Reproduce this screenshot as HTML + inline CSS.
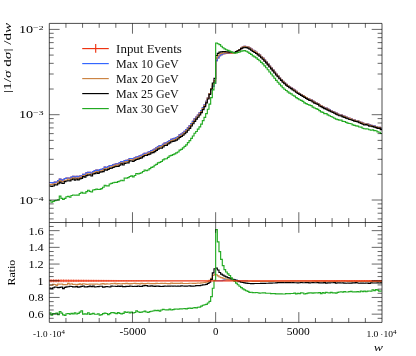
<!DOCTYPE html>
<html><head><meta charset="utf-8"><title>plot</title>
<style>html,body{margin:0;padding:0;background:#fff;overflow:hidden}svg{display:block;will-change:transform}</style></head>
<body>
<svg width="416" height="356" viewBox="0 0 416 356">
<rect width="416" height="356" fill="#fff"/>
<defs><clipPath id="cm"><rect x="49.30" y="23.40" width="332.70" height="199.10"/></clipPath><clipPath id="cr"><rect x="49.30" y="222.50" width="332.70" height="99.90"/></clipPath></defs>
<g clip-path="url(#cm)" fill="none" stroke-width="1.15" stroke-linejoin="miter">
<path d="M49.30,182.54H50.96V182.66H52.63V182.81H54.29V182.06H55.95V182.01H57.62V180.59H59.28V179.12H60.94V180.16H62.61V179.88H64.27V178.52H65.94V178.14H67.60V177.97H69.26V178.32H70.93V177.16H72.59V176.21H74.25V177.24H75.92V176.29H77.58V176.84H79.24V176.01H80.91V175.81H82.57V174.21H84.23V174.31H85.90V172.79H87.56V172.34H89.22V172.24H90.89V173.31H92.55V171.57H94.21V170.67H95.88V170.16H97.54V170.69H99.20V169.62H100.87V169.36H102.53V168.65H104.20V167.06H105.86V167.50H107.52V166.53H109.19V165.48H110.85V165.70H112.51V164.93H114.18V164.24H115.84V163.77H117.50V163.87H119.17V162.63H120.83V161.50H122.49V162.30H124.16V160.68H125.82V160.44H127.48V160.19H129.15V158.46H130.81V158.48H132.47V158.85H134.14V157.77H135.80V156.97H137.47V156.68H139.13V155.73H140.79V155.32H142.46V154.30H144.12V153.28H145.78V153.28H147.45V152.21H149.11V151.60H150.77V150.59H152.44V150.15H154.10V149.05H155.76V147.94H157.43V146.63H159.09V145.67H160.75V145.54H162.42V144.43H164.08V143.06H165.75V142.86H167.41V141.53H169.07V140.51H170.74V139.39H172.40V138.87H174.06V138.43H175.73V137.60H177.39V136.48H179.05V134.91H180.72V134.15H182.38V132.84H184.04V131.24H185.71V129.66H187.37V127.79H189.03V125.94H190.70V123.50H192.36V121.33H194.02V118.94H195.69V116.96H197.35V115.00H199.01V112.80H200.68V110.62H202.34V107.69H204.01V104.79H205.67V101.31H207.33V97.81H209.00V93.68H210.66V89.80H212.32V86.37H213.99V83.39H215.65V60.72H217.31V57.88H218.98V55.67H220.64V54.76H222.30V53.93H223.97V53.57H225.63V53.39H227.29V53.30H228.96V53.21H230.62V53.09H232.28V53.00H233.95V52.77H235.61V51.83H237.28V50.64H238.94V49.46H240.60V47.97H242.27V47.01H243.93V46.34H245.59V46.55H247.26V46.98H248.92V47.90H250.58V48.97H252.25V50.21H253.91V51.19H255.57V52.24H257.24V53.67H258.90V54.82H260.56V56.55H262.23V58.08H263.89V60.01H265.56V61.75H267.22V63.77H268.88V65.96H270.55V67.76H272.21V69.80H273.87V72.01H275.54V74.03H277.20V75.93H278.86V77.89H280.53V79.49H282.19V81.37H283.85V82.85H285.52V84.33H287.18V85.63H288.84V86.93H290.51V87.81H292.17V89.13H293.83V90.13H295.50V91.35H297.16V92.54H298.82V93.54H300.49V94.59H302.15V95.50H303.82V96.51H305.48V97.46H307.14V98.55H308.81V99.36H310.47V99.87H312.13V101.17H313.80V102.18H315.46V102.84H317.12V103.59H318.79V105.01H320.45V105.72H322.11V106.69H323.78V107.76H325.44V108.13H327.10V109.08H328.77V109.92H330.43V110.89H332.10V111.46H333.76V112.43H335.42V113.12H337.09V114.06H338.75V114.75H340.41V114.84H342.08V115.86H343.74V116.34H345.40V117.03H347.07V117.75H348.73V118.37H350.39V118.70H352.06V119.53H353.72V120.11H355.38V120.63H357.05V120.90H358.71V121.59H360.37V122.27H362.04V123.11H363.70V123.84H365.37V123.67H367.03V124.13H368.69V124.93H370.36V125.22H372.02V125.60H373.68V126.05H375.35V126.53H377.01V127.41H378.67V127.34H380.34V128.64H382.00" stroke="#ee3311"/>
<path d="M49.30,182.54H50.96V182.66H52.63V182.81H54.29V182.06H55.95V182.01H57.62V180.59H59.28V179.12H60.94V180.16H62.61V179.88H64.27V178.52H65.94V178.14H67.60V177.97H69.26V178.32H70.93V177.16H72.59V176.21H74.25V177.24H75.92V176.29H77.58V176.84H79.24V176.01H80.91V175.81H82.57V174.21H84.23V174.31H85.90V172.79H87.56V172.34H89.22V172.24H90.89V173.31H92.55V171.57H94.21V170.67H95.88V170.16H97.54V170.69H99.20V169.62H100.87V169.36H102.53V168.65H104.20V167.06H105.86V167.50H107.52V166.53H109.19V165.48H110.85V165.70H112.51V164.93H114.18V164.24H115.84V163.77H117.50V163.87H119.17V162.63H120.83V161.50H122.49V162.30H124.16V160.68H125.82V160.44H127.48V160.19H129.15V158.46H130.81V158.48H132.47V158.85H134.14V157.77H135.80V156.97H137.47V156.68H139.13V155.73H140.79V155.32H142.46V154.30H144.12V153.28H145.78V153.28H147.45V152.21H149.11V151.60H150.77V150.59H152.44V150.15H154.10V149.05H155.76V147.94H157.43V146.63H159.09V145.67H160.75V145.54H162.42V144.43H164.08V143.06H165.75V142.86H167.41V141.53H169.07V140.51H170.74V139.39H172.40V138.87H174.06V138.43H175.73V137.60H177.39V136.48H179.05V134.91H180.72V134.15H182.38V132.84H184.04V131.24H185.71V129.66H187.37V127.79H189.03V125.94H190.70V123.50H192.36V121.33H194.02V118.94H195.69V116.96H197.35V115.00H199.01V112.80H200.68V110.62H202.34V107.69H204.01V104.79H205.67V101.31H207.33V97.81H209.00V93.68H210.66V89.80H212.32V86.37H213.99V83.39H215.65V60.72H217.31V57.88H218.98V55.67H220.64V54.75H222.30V53.77H223.97V53.22H225.63V52.94H227.29V52.80H228.96V52.67H230.62V52.54H232.28V52.50H233.95V52.47H235.61V51.67H237.28V50.58H238.94V49.46H240.60V47.97H242.27V47.01H243.93V46.34H245.59V46.55H247.26V46.98H248.92V47.90H250.58V48.97H252.25V50.21H253.91V51.19H255.57V52.24H257.24V53.67H258.90V54.82H260.56V56.55H262.23V58.08H263.89V60.01H265.56V61.75H267.22V63.77H268.88V65.96H270.55V67.76H272.21V69.80H273.87V72.01H275.54V74.03H277.20V75.93H278.86V77.89H280.53V79.49H282.19V81.37H283.85V82.85H285.52V84.33H287.18V85.63H288.84V86.93H290.51V87.81H292.17V89.13H293.83V90.13H295.50V91.35H297.16V92.54H298.82V93.54H300.49V94.59H302.15V95.50H303.82V96.51H305.48V97.46H307.14V98.55H308.81V99.36H310.47V99.87H312.13V101.17H313.80V102.18H315.46V102.84H317.12V103.59H318.79V105.01H320.45V105.72H322.11V106.69H323.78V107.76H325.44V108.13H327.10V109.08H328.77V109.92H330.43V110.89H332.10V111.46H333.76V112.43H335.42V113.12H337.09V114.06H338.75V114.75H340.41V114.84H342.08V115.86H343.74V116.34H345.40V117.03H347.07V117.75H348.73V118.37H350.39V118.70H352.06V119.53H353.72V120.11H355.38V120.63H357.05V120.90H358.71V121.59H360.37V122.27H362.04V123.11H363.70V123.84H365.37V123.67H367.03V124.13H368.69V124.93H370.36V125.22H372.02V125.60H373.68V126.05H375.35V126.53H377.01V127.41H378.67V127.34H380.34V128.64H382.00" stroke="#3366ff"/>
<path d="M49.30,184.61H50.96V184.65H52.63V184.44H54.29V183.76H55.95V184.10H57.62V182.08H59.28V180.69H60.94V181.61H62.61V181.62H64.27V180.28H65.94V179.97H67.60V179.19H69.26V179.93H70.93V178.51H72.59V177.90H74.25V178.84H75.92V178.15H77.58V178.48H79.24V177.41H80.91V177.51H82.57V175.57H84.23V175.76H85.90V174.45H87.56V173.91H89.22V173.78H90.89V174.78H92.55V173.10H94.21V172.22H95.88V171.64H97.54V172.26H99.20V171.21H100.87V170.76H102.53V169.93H104.20V168.62H105.86V168.89H107.52V167.98H109.19V166.95H110.85V166.94H112.51V166.30H114.18V165.39H115.84V165.16H117.50V165.14H119.17V163.96H120.83V162.88H122.49V163.53H124.16V161.97H125.82V161.65H127.48V161.47H129.15V159.84H130.81V159.75H132.47V160.09H134.14V158.93H135.80V158.30H137.47V157.94H139.13V157.12H140.79V156.51H142.46V155.63H144.12V154.67H145.78V154.50H147.45V153.33H149.11V152.93H150.77V151.89H152.44V151.43H154.10V150.34H155.76V149.12H157.43V147.88H159.09V146.91H160.75V146.69H162.42V145.66H164.08V144.22H165.75V144.11H167.41V142.81H169.07V141.81H170.74V140.46H172.40V140.05H174.06V139.60H175.73V138.77H177.39V137.64H179.05V136.07H180.72V135.22H182.38V134.06H184.04V132.49H185.71V130.87H187.37V129.01H189.03V127.05H190.70V124.60H192.36V122.51H194.02V120.13H195.69V118.09H197.35V116.03H199.01V113.93H200.68V111.56H202.34V108.59H204.01V105.53H205.67V101.95H207.33V98.17H209.00V93.54H210.66V88.79H212.32V84.10H213.99V80.68H215.65V58.16H217.31V55.79H218.98V54.04H220.64V53.38H222.30V52.81H223.97V52.67H225.63V52.66H227.29V52.73H228.96V52.75H230.62V52.76H232.28V52.77H233.95V52.64H235.61V51.81H237.28V50.68H238.94V49.55H240.60V48.10H242.27V47.19H243.93V46.53H245.59V46.77H247.26V47.19H248.92V48.12H250.58V49.20H252.25V50.45H253.91V51.45H255.57V52.51H257.24V53.94H258.90V55.09H260.56V56.80H262.23V58.34H263.89V60.30H265.56V62.00H267.22V64.06H268.88V66.22H270.55V68.02H272.21V70.09H273.87V72.25H275.54V74.26H277.20V76.16H278.86V78.12H280.53V79.73H282.19V81.61H283.85V83.08H285.52V84.55H287.18V85.83H288.84V87.16H290.51V88.00H292.17V89.32H293.83V90.32H295.50V91.56H297.16V92.71H298.82V93.78H300.49V94.76H302.15V95.67H303.82V96.69H305.48V97.63H307.14V98.77H308.81V99.56H310.47V100.04H312.13V101.34H313.80V102.36H315.46V103.09H317.12V103.76H318.79V105.15H320.45V105.87H322.11V106.88H323.78V108.02H325.44V108.29H327.10V109.30H328.77V110.24H330.43V111.10H332.10V111.74H333.76V112.71H335.42V113.37H337.09V114.22H338.75V114.98H340.41V115.05H342.08V115.99H343.74V116.48H345.40V117.27H347.07V118.01H348.73V118.69H350.39V119.00H352.06V119.76H353.72V120.34H355.38V120.88H357.05V121.12H358.71V121.91H360.37V122.55H362.04V123.34H363.70V124.09H365.37V123.89H367.03V124.40H368.69V125.26H370.36V125.52H372.02V126.00H373.68V126.50H375.35V126.84H377.01V127.76H378.67V127.69H380.34V129.13H382.00" stroke="#cc8444"/>
<path d="M49.30,185.98H50.96V186.40H52.63V186.04H54.29V184.94H55.95V184.98H57.62V183.78H59.28V182.16H60.94V183.06H62.61V183.53H64.27V181.58H65.94V180.97H67.60V180.73H69.26V180.85H70.93V179.79H72.59V179.02H74.25V180.05H75.92V179.00H77.58V179.80H79.24V178.85H80.91V178.41H82.57V176.62H84.23V177.11H85.90V175.58H87.56V175.05H89.22V174.74H90.89V176.02H92.55V174.04H94.21V173.55H95.88V172.92H97.54V173.42H99.20V172.16H100.87V171.87H102.53V171.58H104.20V169.89H105.86V170.12H107.52V169.30H109.19V168.36H110.85V168.18H112.51V167.45H114.18V166.78H115.84V166.43H117.50V166.33H119.17V165.23H120.83V163.94H122.49V165.01H124.16V163.38H125.82V163.00H127.48V162.84H129.15V160.93H130.81V160.99H132.47V161.51H134.14V160.31H135.80V159.54H137.47V159.10H139.13V158.33H140.79V157.88H142.46V156.65H144.12V155.50H145.78V155.54H147.45V154.68H149.11V154.05H150.77V152.91H152.44V152.64H154.10V151.62H155.76V150.41H157.43V149.06H159.09V148.22H160.75V148.17H162.42V147.03H164.08V145.48H165.75V145.38H167.41V144.00H169.07V142.94H170.74V141.79H172.40V141.33H174.06V140.85H175.73V140.11H177.39V138.96H179.05V137.41H180.72V136.51H182.38V135.26H184.04V133.71H185.71V132.10H187.37V130.21H189.03V128.30H190.70V125.98H192.36V123.78H194.02V121.32H195.69V119.17H197.35V117.23H199.01V115.00H200.68V112.67H202.34V109.55H204.01V106.62H205.67V102.93H207.33V99.04H209.00V94.35H210.66V89.19H212.32V83.00H213.99V78.40H215.65V55.46H217.31V53.40H218.98V52.18H220.64V51.91H222.30V51.54H223.97V51.58H225.63V51.72H227.29V51.91H228.96V52.09H230.62V52.22H232.28V52.32H233.95V52.32H235.61V51.61H237.28V50.70H238.94V49.83H240.60V48.63H242.27V47.80H243.93V47.29H245.59V47.63H247.26V48.14H248.92V49.14H250.58V50.25H252.25V51.47H253.91V52.45H255.57V53.48H257.24V54.89H258.90V56.08H260.56V57.74H262.23V59.29H263.89V61.16H265.56V62.87H267.22V64.88H268.88V67.03H270.55V68.81H272.21V70.82H273.87V73.03H275.54V74.97H277.20V76.78H278.86V78.70H280.53V80.32H282.19V82.21H283.85V83.73H285.52V85.15H287.18V86.49H288.84V87.79H290.51V88.69H292.17V89.99H293.83V91.01H295.50V92.23H297.16V93.46H298.82V94.43H300.49V95.37H302.15V96.37H303.82V97.41H305.48V98.32H307.14V99.42H308.81V100.30H310.47V100.78H312.13V102.02H313.80V103.07H315.46V103.74H317.12V104.42H318.79V105.95H320.45V106.64H322.11V107.64H323.78V108.61H325.44V109.17H327.10V110.07H328.77V110.89H330.43V111.79H332.10V112.35H333.76V113.29H335.42V114.16H337.09V114.97H338.75V115.72H340.41V115.85H342.08V116.80H343.74V117.38H345.40V118.15H347.07V118.77H348.73V119.46H350.39V119.74H352.06V120.49H353.72V121.06H355.38V121.50H357.05V121.91H358.71V122.72H360.37V123.34H362.04V124.20H363.70V124.95H365.37V124.66H367.03V125.21H368.69V126.12H370.36V126.19H372.02V126.63H373.68V127.05H375.35V127.55H377.01V128.39H378.67V128.37H380.34V129.56H382.00" stroke="#000000"/>
<path d="M49.30,200.49H50.96V202.26H52.63V201.35H54.29V200.57H55.95V200.22H57.62V199.94H59.28V196.11H60.94V198.34H62.61V199.32H64.27V198.37H65.94V196.79H67.60V196.42H69.26V197.21H70.93V195.48H72.59V194.98H74.25V195.21H75.92V195.13H77.58V195.17H79.24V193.45H80.91V192.27H82.57V193.14H84.23V193.06H85.90V191.68H87.56V190.22H89.22V191.34H90.89V192.02H92.55V189.98H94.21V189.67H95.88V189.16H97.54V189.45H99.20V189.36H100.87V188.67H102.53V187.23H104.20V185.24H105.86V185.92H107.52V185.83H109.19V183.98H110.85V183.41H112.51V182.74H114.18V182.43H115.84V182.34H117.50V181.68H119.17V181.02H120.83V180.20H122.49V180.70H124.16V177.96H125.82V178.18H127.48V177.56H129.15V176.50H130.81V175.93H132.47V176.90H134.14V175.52H135.80V173.54H137.47V173.87H139.13V173.44H140.79V172.79H142.46V171.45H144.12V170.03H145.78V170.62H147.45V169.95H149.11V168.69H150.77V167.42H152.44V166.82H154.10V165.22H155.76V164.34H157.43V162.85H159.09V162.39H160.75V161.53H162.42V159.93H164.08V158.88H165.75V158.79H167.41V157.37H169.07V155.85H170.74V155.37H172.40V154.56H174.06V153.86H175.73V152.87H177.39V151.95H179.05V150.14H180.72V149.41H182.38V147.94H184.04V146.33H185.71V144.88H187.37V142.67H189.03V140.55H190.70V138.38H192.36V135.96H194.02V133.29H195.69V131.48H197.35V129.14H199.01V126.90H200.68V124.06H202.34V120.56H204.01V117.31H205.67V113.64H207.33V109.27H209.00V104.17H210.66V97.58H212.32V89.86H213.99V83.20H215.65V43.01H217.31V43.71H218.98V44.58H220.64V46.29H222.30V47.74H223.97V48.93H225.63V49.70H227.29V50.38H228.96V50.95H230.62V51.82H232.28V52.68H233.95V53.09H235.61V52.88H237.28V52.43H238.94V52.01H240.60V51.13H242.27V50.81H243.93V50.64H245.59V51.26H247.26V52.05H248.92V53.43H250.58V54.44H252.25V55.87H253.91V56.94H255.57V57.86H257.24V59.43H258.90V60.73H260.56V62.42H262.23V63.88H263.89V65.84H265.56V67.76H267.22V69.77H268.88V71.98H270.55V73.95H272.21V75.95H273.87V78.23H275.54V80.34H277.20V82.27H278.86V84.18H280.53V85.81H282.19V87.77H283.85V89.23H285.52V90.52H287.18V91.89H288.84V93.10H290.51V93.92H292.17V95.28H293.83V96.06H295.50V97.67H297.16V98.63H298.82V99.73H300.49V100.43H302.15V101.35H303.82V102.90H305.48V103.69H307.14V104.47H308.81V105.19H310.47V105.69H312.13V107.09H313.80V107.98H315.46V108.58H317.12V109.41H318.79V110.66H320.45V111.92H322.11V112.38H323.78V113.67H325.44V113.66H327.10V114.81H328.77V115.76H330.43V116.47H332.10V117.28H333.76V118.26H335.42V119.05H337.09V119.62H338.75V120.12H340.41V120.07H342.08V121.31H343.74V121.51H345.40V122.40H347.07V123.13H348.73V123.54H350.39V123.73H352.06V124.88H353.72V125.43H355.38V125.89H357.05V126.09H358.71V126.97H360.37V127.12H362.04V128.27H363.70V128.79H365.37V128.92H367.03V129.01H368.69V129.76H370.36V130.20H372.02V129.84H373.68V130.68H375.35V130.73H377.01V131.83H378.67V132.28H380.34V133.47H382.00" stroke="#22aa22"/>
</g>
<g clip-path="url(#cr)" fill="none" stroke-width="1.15" stroke-linejoin="miter">
<defs><clipPath id="cb"><rect x="214" y="222.50" width="34" height="99.90"/></clipPath></defs>
<path d="M49.30,280.75H50.96V280.75H52.63V280.75H54.29V280.75H55.95V280.75H57.62V280.75H59.28V280.75H60.94V280.75H62.61V280.75H64.27V280.75H65.94V280.75H67.60V280.75H69.26V280.75H70.93V280.75H72.59V280.75H74.25V280.75H75.92V280.75H77.58V280.75H79.24V280.75H80.91V280.75H82.57V280.75H84.23V280.75H85.90V280.75H87.56V280.75H89.22V280.75H90.89V280.75H92.55V280.75H94.21V280.75H95.88V280.75H97.54V280.75H99.20V280.75H100.87V280.75H102.53V280.75H104.20V280.75H105.86V280.75H107.52V280.75H109.19V280.75H110.85V280.75H112.51V280.75H114.18V280.75H115.84V280.75H117.50V280.75H119.17V280.75H120.83V280.75H122.49V280.75H124.16V280.75H125.82V280.75H127.48V280.75H129.15V280.75H130.81V280.75H132.47V280.75H134.14V280.75H135.80V280.75H137.47V280.75H139.13V280.75H140.79V280.75H142.46V280.75H144.12V280.75H145.78V280.75H147.45V280.75H149.11V280.75H150.77V280.75H152.44V280.75H154.10V280.75H155.76V280.75H157.43V280.75H159.09V280.75H160.75V280.75H162.42V280.75H164.08V280.75H165.75V280.75H167.41V280.75H169.07V280.75H170.74V280.75H172.40V280.75H174.06V280.75H175.73V280.75H177.39V280.75H179.05V280.75H180.72V280.75H182.38V280.75H184.04V280.75H185.71V280.75H187.37V280.75H189.03V280.75H190.70V280.75H192.36V280.75H194.02V280.75H195.69V280.75H197.35V280.75H199.01V280.75H200.68V280.75H202.34V280.75H204.01V280.75H205.67V280.75H207.33V280.75H209.00V280.75H210.66V280.75H212.32V280.75H213.99V280.75H215.65V280.75H217.31V280.75H218.98V280.75H220.64V280.73H222.30V280.39H223.97V279.94H225.63V279.72H227.29V279.61H228.96V279.54H230.62V279.50H232.28V279.63H233.95V280.06H235.61V280.40H237.28V280.62H238.94V280.75H240.60V280.75H242.27V280.75H243.93V280.75H245.59V280.75H247.26V280.75H248.92V280.75H250.58V280.75H252.25V280.75H253.91V280.75H255.57V280.75H257.24V280.75H258.90V280.75H260.56V280.75H262.23V280.75H263.89V280.75H265.56V280.75H267.22V280.75H268.88V280.75H270.55V280.75H272.21V280.75H273.87V280.75H275.54V280.75H277.20V280.75H278.86V280.75H280.53V280.75H282.19V280.75H283.85V280.75H285.52V280.75H287.18V280.75H288.84V280.75H290.51V280.75H292.17V280.75H293.83V280.75H295.50V280.75H297.16V280.75H298.82V280.75H300.49V280.75H302.15V280.75H303.82V280.75H305.48V280.75H307.14V280.75H308.81V280.75H310.47V280.75H312.13V280.75H313.80V280.75H315.46V280.75H317.12V280.75H318.79V280.75H320.45V280.75H322.11V280.75H323.78V280.75H325.44V280.75H327.10V280.75H328.77V280.75H330.43V280.75H332.10V280.75H333.76V280.75H335.42V280.75H337.09V280.75H338.75V280.75H340.41V280.75H342.08V280.75H343.74V280.75H345.40V280.75H347.07V280.75H348.73V280.75H350.39V280.75H352.06V280.75H353.72V280.75H355.38V280.75H357.05V280.75H358.71V280.75H360.37V280.75H362.04V280.75H363.70V280.75H365.37V280.75H367.03V280.75H368.69V280.75H370.36V280.75H372.02V280.75H373.68V280.75H375.35V280.75H377.01V280.75H378.67V280.75H380.34V280.75H382.00" stroke="#3366ff" clip-path="url(#cb)"/>
<path d="M49.30,285.29H50.96V285.12H52.63V284.34H54.29V284.48H55.95V285.33H57.62V284.06H59.28V284.20H60.94V283.95H62.61V284.59H64.27V284.60H65.94V284.78H67.60V283.44H69.26V284.29H70.93V283.74H72.59V284.47H74.25V284.26H75.92V284.84H77.58V284.35H79.24V283.86H80.91V284.51H82.57V283.76H84.23V283.96H85.90V284.40H87.56V284.22H89.22V284.15H90.89V284.00H92.55V284.12H94.21V284.19H95.88V284.02H97.54V284.21H99.20V284.25H100.87V283.84H102.53V283.58H104.20V284.21H105.86V283.81H107.52V283.95H109.19V284.00H110.85V283.51H112.51V283.79H114.18V283.31H115.84V283.83H117.50V283.57H119.17V283.70H120.83V283.80H122.49V283.48H124.16V283.60H125.82V283.44H127.48V283.58H129.15V283.80H130.81V283.58H132.47V283.50H134.14V283.32H135.80V283.68H137.47V283.54H139.13V283.82H140.79V283.38H142.46V283.69H144.12V283.82H145.78V283.46H147.45V283.25H149.11V283.70H150.77V283.64H152.44V283.57H154.10V283.60H155.76V283.36H157.43V283.53H159.09V283.50H160.75V283.31H162.42V283.48H164.08V283.33H165.75V283.52H167.41V283.58H169.07V283.62H170.74V283.13H172.40V283.38H174.06V283.33H175.73V283.35H177.39V283.33H179.05V283.31H180.72V283.12H182.38V283.45H184.04V283.52H185.71V283.45H187.37V283.45H189.03V283.22H190.70V283.20H192.36V283.37H194.02V283.40H195.69V283.25H197.35V283.04H199.01V283.26H200.68V282.85H202.34V282.77H204.01V282.39H205.67V282.17H207.33V281.55H209.00V280.44H210.66V278.43H212.32V275.47H213.99V274.42H215.65V274.78H217.31V275.90H218.98V277.00H220.64V277.60H222.30V278.19H223.97V278.70H225.63V279.09H227.29V279.45H228.96V279.72H230.62V279.99H232.28V280.23H233.95V280.46H235.61V280.70H237.28V280.86H238.94V280.95H240.60V281.06H242.27V281.14H243.93V281.17H245.59V281.23H247.26V281.21H248.92V281.25H250.58V281.27H252.25V281.30H253.91V281.34H255.57V281.36H257.24V281.35H258.90V281.36H260.56V281.33H262.23V281.34H263.89V281.39H265.56V281.33H267.22V281.38H268.88V281.35H270.55V281.33H272.21V281.40H273.87V281.29H275.54V281.27H277.20V281.27H278.86V281.28H280.53V281.27H282.19V281.29H283.85V281.25H285.52V281.25H287.18V281.21H288.84V281.27H290.51V281.18H292.17V281.17H293.83V281.19H295.50V281.20H297.16V281.14H298.82V281.29H300.49V281.14H302.15V281.14H303.82V281.14H305.48V281.14H307.14V281.22H308.81V281.19H310.47V281.12H312.13V281.13H313.80V281.17H315.46V281.31H317.12V281.14H318.79V281.06H320.45V281.08H322.11V281.18H323.78V281.34H325.44V281.12H327.10V281.24H328.77V281.48H330.43V281.21H332.10V281.39H333.76V281.39H335.42V281.31H337.09V281.11H338.75V281.28H340.41V281.21H342.08V281.04H343.74V281.07H345.40V281.28H347.07V281.34H348.73V281.47H350.39V281.41H352.06V281.27H353.72V281.27H355.38V281.31H357.05V281.23H358.71V281.47H360.37V281.39H362.04V281.28H363.70V281.30H365.37V281.25H367.03V281.37H368.69V281.49H370.36V281.42H372.02V281.65H373.68V281.76H375.35V281.44H377.01V281.53H378.67V281.52H380.34V281.85H382.00" stroke="#cc8444"/>
<path d="M49.30,288.15H50.96V288.77H52.63V287.72H54.29V286.98H55.95V287.20H57.62V287.66H59.28V287.33H60.94V287.02H62.61V288.58H64.27V287.36H65.94V286.90H67.60V286.74H69.26V286.25H70.93V286.48H72.59V286.85H74.25V286.83H75.92V286.64H77.58V287.16H79.24V286.92H80.91V286.43H82.57V286.00H84.23V286.83H85.90V286.81H87.56V286.64H89.22V286.19H90.89V286.63H92.55V286.14H94.21V286.99H95.88V286.74H97.54V286.67H99.20V286.28H100.87V286.21H102.53V287.10H104.20V286.90H105.86V286.45H107.52V286.77H109.19V287.00H110.85V286.15H112.51V286.25H114.18V286.28H115.84V286.54H117.50V286.10H119.17V286.42H120.83V286.08H122.49V286.64H124.16V286.62H125.82V286.32H127.48V286.51H129.15V286.14H130.81V286.24H132.47V286.54H134.14V286.29H135.80V286.34H137.47V286.04H139.13V286.40H140.79V286.33H142.46V285.89H144.12V285.62H145.78V285.69H147.45V286.13H149.11V286.10H150.77V285.83H152.44V286.18H154.10V286.36H155.76V286.13H157.43V286.06H159.09V286.31H160.75V286.48H162.42V286.41H164.08V286.02H165.75V286.24H167.41V286.14H169.07V286.05H170.74V285.99H172.40V286.13H174.06V286.02H175.73V286.21H177.39V286.15H179.05V286.20H180.72V285.90H182.38V286.04H184.04V286.14H185.71V286.07H187.37V286.03H189.03V285.91H190.70V286.17H192.36V286.10H194.02V285.96H195.69V285.58H197.35V285.62H199.01V285.56H200.68V285.24H202.34V284.85H204.01V284.77H205.67V284.32H207.33V283.47H209.00V282.24H210.66V279.36H212.32V272.80H213.99V268.73H215.65V268.01H217.31V270.03H218.98V272.50H220.64V274.09H222.30V275.18H223.97V276.14H225.63V276.90H227.29V277.55H228.96V278.19H230.62V278.78H232.28V279.20H233.95V279.72H235.61V280.25H237.28V280.91H238.94V281.58H240.60V282.23H242.27V282.50H243.93V282.87H245.59V283.13H247.26V283.32H248.92V283.50H250.58V283.59H252.25V283.55H253.91V283.54H255.57V283.49H257.24V283.45H258.90V283.53H260.56V283.40H262.23V283.44H263.89V283.30H265.56V283.26H267.22V283.20H268.88V283.12H270.55V283.07H272.21V283.02H273.87V283.01H275.54V282.83H277.20V282.63H278.86V282.57H280.53V282.58H282.19V282.62H283.85V282.71H285.52V282.56H287.18V282.67H288.84V282.68H290.51V282.70H292.17V282.68H293.83V282.72H295.50V282.71H297.16V282.80H298.82V282.73H300.49V282.49H302.15V282.70H303.82V282.74H305.48V282.67H307.14V282.67H308.81V282.86H310.47V282.77H312.13V282.66H313.80V282.73H315.46V282.74H317.12V282.61H318.79V282.85H320.45V282.80H322.11V282.85H323.78V282.65H325.44V283.06H327.10V282.94H328.77V282.91H330.43V282.75H332.10V282.75H333.76V282.68H335.42V283.06H337.09V282.79H338.75V282.92H340.41V282.98H342.08V282.83H343.74V283.06H345.40V283.24H347.07V283.02H348.73V283.17H350.39V283.05H352.06V282.88H353.72V282.87H355.38V282.68H357.05V282.99H358.71V283.25H360.37V283.15H362.04V283.18H363.70V283.22H365.37V282.95H367.03V283.15H368.69V283.39H370.36V282.93H372.02V283.04H373.68V282.97H375.35V283.02H377.01V282.93H378.67V283.03H380.34V282.81H382.00" stroke="#000000"/>
<path d="M49.30,312.83H50.96V315.05H52.63V313.63H54.29V313.58H55.95V313.18H57.62V314.73H59.28V311.47H60.94V313.13H62.61V314.84H64.27V315.39H65.94V313.78H67.60V313.49H69.26V314.10H70.93V313.33H72.59V313.94H74.25V312.84H75.92V314.03H77.58V313.33H79.24V312.10H80.91V310.72H82.57V314.15H84.23V313.92H85.90V314.11H87.56V312.72H89.22V314.38H90.89V313.85H92.55V313.44H94.21V314.26H95.88V314.26H97.54V313.92H99.20V315.23H100.87V314.67H102.53V313.68H104.20V313.14H105.86V313.46H107.52V314.66H109.19V313.58H110.85V312.49H112.51V312.62H114.18V313.14H115.84V313.67H117.50V312.62H119.17V313.42H120.83V313.85H122.49V313.44H124.16V311.88H125.82V312.52H127.48V312.01H129.15V312.94H130.81V312.12H132.47V312.96H134.14V312.53H135.80V310.86H137.47V311.76H139.13V312.47H140.79V312.14H142.46V311.70H144.12V311.12H145.78V311.96H147.45V312.52H149.11V311.61H150.77V311.24H152.44V311.00H154.10V310.29H155.76V310.61H157.43V310.36H159.09V311.07H160.75V310.02H162.42V309.30H164.08V309.77H165.75V309.92H167.41V309.80H169.07V309.06H170.74V310.00H172.40V309.59H174.06V309.19H175.73V308.96H177.39V309.26H179.05V308.89H180.72V308.94H182.38V308.70H184.04V308.68H185.71V308.89H187.37V308.38H189.03V307.97H190.70V308.38H192.36V308.01H194.02V307.57H195.69V307.81H197.35V307.23H199.01V307.18H200.68V306.16H202.34V305.27H204.01V304.70H205.67V304.39H207.33V302.96H209.00V301.34H210.66V296.56H212.32V288.26H213.99V280.33H215.65V229.56H217.31V241.87H218.98V251.62H220.64V259.31H222.30V265.57H223.97V269.61H225.63V272.01H227.29V273.91H228.96V275.51H230.62V277.85H232.28V280.03H233.95V281.47H235.61V283.08H237.28V284.71H238.94V286.29H240.60V287.59H242.27V288.89H243.93V289.90H245.59V290.71H247.26V291.43H248.92V292.32H250.58V292.20H252.25V292.59H253.91V292.76H255.57V292.51H257.24V292.78H258.90V293.06H260.56V293.00H262.23V292.85H263.89V292.90H265.56V293.27H267.22V293.23H268.88V293.27H270.55V293.60H272.21V293.51H273.87V293.65H275.54V293.83H277.20V293.88H278.86V293.80H280.53V293.84H282.19V293.99H283.85V293.95H285.52V293.59H287.18V293.74H288.84V293.56H290.51V293.45H292.17V293.52H293.83V293.11H295.50V293.83H297.16V293.42H298.82V293.60H300.49V292.93H302.15V292.95H303.82V293.98H305.48V293.67H307.14V293.07H308.81V292.92H310.47V292.89H312.13V293.08H313.80V292.86H315.46V292.73H317.12V292.90H318.79V292.56H320.45V293.62H322.11V292.63H323.78V293.08H325.44V292.34H327.10V292.72H328.77V292.94H330.43V292.43H332.10V292.89H333.76V292.91H335.42V293.11H337.09V292.38H338.75V292.02H340.41V291.74H342.08V292.16H343.74V291.62H345.40V292.02H347.07V292.03H348.73V291.63H350.39V291.34H352.06V291.98H353.72V291.93H355.38V291.81H357.05V291.65H358.71V292.04H360.37V291.01H362.04V291.62H363.70V291.18H365.37V291.78H367.03V291.07H368.69V290.96H370.36V291.26H372.02V289.79H373.68V290.55H375.35V289.69H377.01V290.15H378.67V291.17H380.34V290.96H382.00" stroke="#22aa22"/>
<path d="M49.30,280.75H50.96V280.75H52.63V280.75H54.29V280.75H55.95V280.75H57.62V280.75H59.28V280.75H60.94V280.75H62.61V280.75H64.27V280.75H65.94V280.75H67.60V280.75H69.26V280.75H70.93V280.75H72.59V280.75H74.25V280.75H75.92V280.75H77.58V280.75H79.24V280.75H80.91V280.75H82.57V280.75H84.23V280.75H85.90V280.75H87.56V280.75H89.22V280.75H90.89V280.75H92.55V280.75H94.21V280.75H95.88V280.75H97.54V280.75H99.20V280.75H100.87V280.75H102.53V280.75H104.20V280.75H105.86V280.75H107.52V280.75H109.19V280.75H110.85V280.75H112.51V280.75H114.18V280.75H115.84V280.75H117.50V280.75H119.17V280.75H120.83V280.75H122.49V280.75H124.16V280.75H125.82V280.75H127.48V280.75H129.15V280.75H130.81V280.75H132.47V280.75H134.14V280.75H135.80V280.75H137.47V280.75H139.13V280.75H140.79V280.75H142.46V280.75H144.12V280.75H145.78V280.75H147.45V280.75H149.11V280.75H150.77V280.75H152.44V280.75H154.10V280.75H155.76V280.75H157.43V280.75H159.09V280.75H160.75V280.75H162.42V280.75H164.08V280.75H165.75V280.75H167.41V280.75H169.07V280.75H170.74V280.75H172.40V280.75H174.06V280.75H175.73V280.75H177.39V280.75H179.05V280.75H180.72V280.75H182.38V280.75H184.04V280.75H185.71V280.75H187.37V280.75H189.03V280.75H190.70V280.75H192.36V280.75H194.02V280.75H195.69V280.75H197.35V280.75H199.01V280.75H200.68V280.75H202.34V280.75H204.01V280.75H205.67V280.75H207.33V280.75H209.00V280.75H210.66V280.75H212.32V280.75H213.99V280.75H215.65V280.75H217.31V280.75H218.98V280.75H220.64V280.75H222.30V280.75H223.97V280.75H225.63V280.75H227.29V280.75H228.96V280.75H230.62V280.75H232.28V280.75H233.95V280.75H235.61V280.75H237.28V280.75H238.94V280.75H240.60V280.75H242.27V280.75H243.93V280.75H245.59V280.75H247.26V280.75H248.92V280.75H250.58V280.75H252.25V280.75H253.91V280.75H255.57V280.75H257.24V280.75H258.90V280.75H260.56V280.75H262.23V280.75H263.89V280.75H265.56V280.75H267.22V280.75H268.88V280.75H270.55V280.75H272.21V280.75H273.87V280.75H275.54V280.75H277.20V280.75H278.86V280.75H280.53V280.75H282.19V280.75H283.85V280.75H285.52V280.75H287.18V280.75H288.84V280.75H290.51V280.75H292.17V280.75H293.83V280.75H295.50V280.75H297.16V280.75H298.82V280.75H300.49V280.75H302.15V280.75H303.82V280.75H305.48V280.75H307.14V280.75H308.81V280.75H310.47V280.75H312.13V280.75H313.80V280.75H315.46V280.75H317.12V280.75H318.79V280.75H320.45V280.75H322.11V280.75H323.78V280.75H325.44V280.75H327.10V280.75H328.77V280.75H330.43V280.75H332.10V280.75H333.76V280.75H335.42V280.75H337.09V280.75H338.75V280.75H340.41V280.75H342.08V280.75H343.74V280.75H345.40V280.75H347.07V280.75H348.73V280.75H350.39V280.75H352.06V280.75H353.72V280.75H355.38V280.75H357.05V280.75H358.71V280.75H360.37V280.75H362.04V280.75H363.70V280.75H365.37V280.75H367.03V280.75H368.69V280.75H370.36V280.75H372.02V280.75H373.68V280.75H375.35V280.75H377.01V280.75H378.67V280.75H380.34V280.75H382.00" stroke="#ee3311" stroke-width="1.25"/>
<path d="M50.13,279.06V282.44M51.80,279.09V282.41M53.46,279.11V282.39M55.12,279.14V282.36M56.79,279.16V282.34M58.45,279.19V282.31M60.11,279.21V282.29M61.78,279.24V282.26M63.44,279.26V282.24M65.10,279.29V282.21M66.77,279.31V282.19M68.43,279.33V282.17M70.09,279.36V282.14M71.76,279.38V282.12M73.42,279.41V282.09M75.08,279.43V282.07M76.75,279.45V282.05M78.41,279.48V282.02M80.07,279.50V282.00M81.74,279.52V281.98M83.40,279.54V281.96M85.07,279.57V281.93M86.73,279.59V281.91M88.39,279.61V281.89M90.06,279.63V281.87M91.72,279.66V281.84M93.38,279.68V281.82M95.05,279.70V281.80M96.71,279.72V281.78M98.37,279.74V281.76M100.04,279.77V281.73M101.70,279.79V281.71M103.36,279.81V281.69M105.03,279.83V281.67M106.69,279.85V281.65M108.35,279.87V281.63M110.02,279.89V281.61M111.68,279.91V281.59M113.34,279.93V281.57M115.01,279.95V281.55M116.67,279.97V281.53M118.34,279.99V281.51M120.00,280.01V281.49M121.66,280.03V281.47M123.33,280.05V281.45M124.99,280.07V281.43M126.65,280.08V281.42M128.32,280.10V281.40M129.98,280.12V281.38M131.64,280.14V281.36M133.31,280.16V281.34M134.97,280.18V281.32M136.63,280.19V281.31M138.30,280.21V281.29M139.96,280.23V281.27M141.62,280.25V281.25M143.29,280.26V281.24M144.95,280.28V281.22M146.61,280.30V281.20M148.28,280.31V281.19M149.94,280.33V281.17M151.61,280.34V281.16M153.27,280.36V281.14M154.93,280.38V281.12M156.60,280.39V281.11M312.96,280.39V281.11M314.63,280.38V281.12M316.29,280.37V281.13M317.96,280.36V281.14M319.62,280.35V281.15M321.28,280.35V281.15M322.95,280.34V281.16M324.61,280.33V281.17M326.27,280.32V281.18M327.94,280.31V281.19M329.60,280.30V281.20M331.26,280.29V281.21M332.93,280.28V281.22M334.59,280.27V281.23M336.25,280.26V281.24M337.92,280.25V281.25M339.58,280.24V281.26M341.24,280.23V281.27M342.91,280.21V281.29M344.57,280.20V281.30M346.23,280.19V281.31M347.90,280.18V281.32M349.56,280.17V281.33M351.23,280.16V281.34M352.89,280.15V281.35M354.55,280.14V281.36M356.22,280.13V281.37M357.88,280.12V281.38M359.54,280.11V281.39M361.21,280.10V281.40M362.87,280.08V281.42M364.53,280.07V281.43M366.20,280.06V281.44M367.86,280.05V281.45M369.52,280.04V281.46M371.19,280.03V281.47M372.85,280.02V281.48M374.51,280.00V281.50M376.18,279.99V281.51M377.84,279.98V281.52M379.50,279.97V281.53M381.17,279.96V281.54" stroke="#ee3311" stroke-width="0.7"/>
</g>
<path d="M65.94,23.40v4.40M65.94,218.10V226.90M65.94,322.40v-4.40M82.57,23.40v4.40M82.57,218.10V226.90M82.57,322.40v-4.40M99.20,23.40v4.40M99.20,218.10V226.90M99.20,322.40v-4.40M115.84,23.40v4.40M115.84,218.10V226.90M115.84,322.40v-4.40M132.47,23.40v10.30M132.47,212.20V232.80M132.47,322.40v-10.30M149.11,23.40v4.40M149.11,218.10V226.90M149.11,322.40v-4.40M165.75,23.40v4.40M165.75,218.10V226.90M165.75,322.40v-4.40M182.38,23.40v4.40M182.38,218.10V226.90M182.38,322.40v-4.40M199.01,23.40v4.40M199.01,218.10V226.90M199.01,322.40v-4.40M215.65,23.40v10.30M215.65,212.20V232.80M215.65,322.40v-10.30M232.28,23.40v4.40M232.28,218.10V226.90M232.28,322.40v-4.40M248.92,23.40v4.40M248.92,218.10V226.90M248.92,322.40v-4.40M265.55,23.40v4.40M265.55,218.10V226.90M265.55,322.40v-4.40M282.19,23.40v4.40M282.19,218.10V226.90M282.19,322.40v-4.40M298.82,23.40v10.30M298.82,212.20V232.80M298.82,322.40v-10.30M315.46,23.40v4.40M315.46,218.10V226.90M315.46,322.40v-4.40M332.09,23.40v4.40M332.09,218.10V226.90M332.09,322.40v-4.40M348.73,23.40v4.40M348.73,218.10V226.90M348.73,322.40v-4.40M365.37,23.40v4.40M365.37,218.10V226.90M365.37,322.40v-4.40M49.30,29.40h10.30M382.00,29.40h-10.30M49.30,114.70h10.30M382.00,114.70h-10.30M49.30,89.02h4.40M382.00,89.02h-4.40M49.30,74.00h4.40M382.00,74.00h-4.40M49.30,63.34h4.40M382.00,63.34h-4.40M49.30,55.08h4.40M382.00,55.08h-4.40M49.30,48.32h4.40M382.00,48.32h-4.40M49.30,42.61h4.40M382.00,42.61h-4.40M49.30,37.67h4.40M382.00,37.67h-4.40M49.30,33.30h4.40M382.00,33.30h-4.40M49.30,200.00h10.30M382.00,200.00h-10.30M49.30,174.32h4.40M382.00,174.32h-4.40M49.30,159.30h4.40M382.00,159.30h-4.40M49.30,148.64h4.40M382.00,148.64h-4.40M49.30,140.38h4.40M382.00,140.38h-4.40M49.30,133.62h4.40M382.00,133.62h-4.40M49.30,127.91h4.40M382.00,127.91h-4.40M49.30,122.97h4.40M382.00,122.97h-4.40M49.30,118.60h4.40M382.00,118.60h-4.40M49.30,218.92h4.40M382.00,218.92h-4.40M49.30,213.21h4.40M382.00,213.21h-4.40M49.30,208.27h4.40M382.00,208.27h-4.40M49.30,203.90h4.40M382.00,203.90h-4.40M49.30,318.32h4.40M382.00,318.32h-4.40M49.30,314.15h10.30M382.00,314.15h-10.30M49.30,309.98h4.40M382.00,309.98h-4.40M49.30,305.80h4.40M382.00,305.80h-4.40M49.30,301.62h4.40M382.00,301.62h-4.40M49.30,297.45h10.30M382.00,297.45h-10.30M49.30,293.27h4.40M382.00,293.27h-4.40M49.30,289.10h4.40M382.00,289.10h-4.40M49.30,284.93h4.40M382.00,284.93h-4.40M49.30,280.75h10.30M382.00,280.75h-10.30M49.30,276.57h4.40M382.00,276.57h-4.40M49.30,272.40h4.40M382.00,272.40h-4.40M49.30,268.23h4.40M382.00,268.23h-4.40M49.30,264.05h10.30M382.00,264.05h-10.30M49.30,259.88h4.40M382.00,259.88h-4.40M49.30,255.70h4.40M382.00,255.70h-4.40M49.30,251.52h4.40M382.00,251.52h-4.40M49.30,247.35h10.30M382.00,247.35h-10.30M49.30,243.17h4.40M382.00,243.17h-4.40M49.30,239.00h4.40M382.00,239.00h-4.40M49.30,234.82h4.40M382.00,234.82h-4.40M49.30,230.65h10.30M382.00,230.65h-10.30M49.30,226.47h4.40M382.00,226.47h-4.40" stroke="#000" stroke-width="0.6" fill="none"/>
<path d="M49.30,23.40H382.00V322.40H49.30ZM49.30,222.50H382.00" stroke="#000" stroke-width="0.7" fill="none"/>
<g stroke-width="1.15" fill="none">
<path d="M82.2,48.60H108.8" stroke="#ee3311"/>
<path d="M82.2,63.60H108.8" stroke="#3366ff"/>
<path d="M82.2,78.60H108.8" stroke="#cc8444"/>
<path d="M82.2,93.60H108.8" stroke="#000000"/>
<path d="M82.2,108.60H108.8" stroke="#22aa22"/>
<path d="M95.7,43.9V52.8" stroke="#ee3311"/>
</g>
<g font-family="Liberation Serif, serif" font-size="11.6" fill="#111">
<text x="116.1" y="52.70" textLength="65.8" lengthAdjust="spacingAndGlyphs">Input Events</text>
<text x="116.1" y="67.70" textLength="62.6" lengthAdjust="spacingAndGlyphs">Max 10 GeV</text>
<text x="116.1" y="82.70" textLength="62.6" lengthAdjust="spacingAndGlyphs">Max 20 GeV</text>
<text x="116.1" y="97.70" textLength="62.6" lengthAdjust="spacingAndGlyphs">Max 25 GeV</text>
<text x="116.1" y="112.70" textLength="62.6" lengthAdjust="spacingAndGlyphs">Max 30 GeV</text>
</g>
<g font-family="Liberation Serif, serif" fill="#000">
<text x="19.0" y="33.10" font-size="10" text-anchor="start" textLength="24.5" lengthAdjust="spacingAndGlyphs" >10<tspan font-size="6.8" dy="-3.2">−2</tspan></text>
<text x="19.0" y="118.40" font-size="10" text-anchor="start" textLength="24.5" lengthAdjust="spacingAndGlyphs" >10<tspan font-size="6.8" dy="-3.2">−3</tspan></text>
<text x="19.0" y="203.70" font-size="10" text-anchor="start" textLength="24.5" lengthAdjust="spacingAndGlyphs" >10<tspan font-size="6.8" dy="-3.2">−4</tspan></text>
<text x="28.4" y="234.55" font-size="9.8" text-anchor="start" textLength="15.3" lengthAdjust="spacingAndGlyphs" >1.6</text>
<text x="28.4" y="251.25" font-size="9.8" text-anchor="start" textLength="15.3" lengthAdjust="spacingAndGlyphs" >1.4</text>
<text x="28.4" y="267.95" font-size="9.8" text-anchor="start" textLength="15.3" lengthAdjust="spacingAndGlyphs" >1.2</text>
<text x="28.4" y="301.35" font-size="9.8" text-anchor="start" textLength="15.3" lengthAdjust="spacingAndGlyphs" >0.8</text>
<text x="28.4" y="318.05" font-size="9.8" text-anchor="start" textLength="15.3" lengthAdjust="spacingAndGlyphs" >0.6</text>
<text x="37.6" y="284.65" font-size="9.8" text-anchor="start" textLength="6.0" lengthAdjust="spacingAndGlyphs" >1</text>
<text x="33.0" y="336.70" font-size="8.8" text-anchor="start" textLength="31.8" lengthAdjust="spacingAndGlyphs" >-1.0 ·10<tspan font-size="6.5" dy="-2.8">4</tspan></text>
<text x="119.6" y="335.10" font-size="9.5" text-anchor="start" textLength="26.5" lengthAdjust="spacingAndGlyphs" >-5000</text>
<text x="213.0" y="335.10" font-size="9.5" text-anchor="start" textLength="5.4" lengthAdjust="spacingAndGlyphs" >0</text>
<text x="286.8" y="335.10" font-size="9.5" text-anchor="start" textLength="22.9" lengthAdjust="spacingAndGlyphs" >5000</text>
<text x="366.4" y="336.70" font-size="8.8" text-anchor="start" textLength="30.1" lengthAdjust="spacingAndGlyphs" >1.0 ·10<tspan font-size="6.5" dy="-2.8">4</tspan></text>
</g>
<text x="373.8" y="350.8" font-family="Liberation Serif, serif" font-size="11" font-style="italic" textLength="9.2" lengthAdjust="spacingAndGlyphs">w</text>
<text transform="translate(11.2,93) rotate(-90)" font-family="Liberation Serif, serif" font-size="10.5" textLength="70.3" lengthAdjust="spacingAndGlyphs">|1/<tspan font-style="italic">σ</tspan> d<tspan font-style="italic">σ</tspan>| /d<tspan font-style="italic">w</tspan></text>
<text transform="translate(14.6,285.5) rotate(-90)" font-family="Liberation Serif, serif" font-size="11" textLength="25.7" lengthAdjust="spacingAndGlyphs">Ratio</text>
</svg>
</body></html>
